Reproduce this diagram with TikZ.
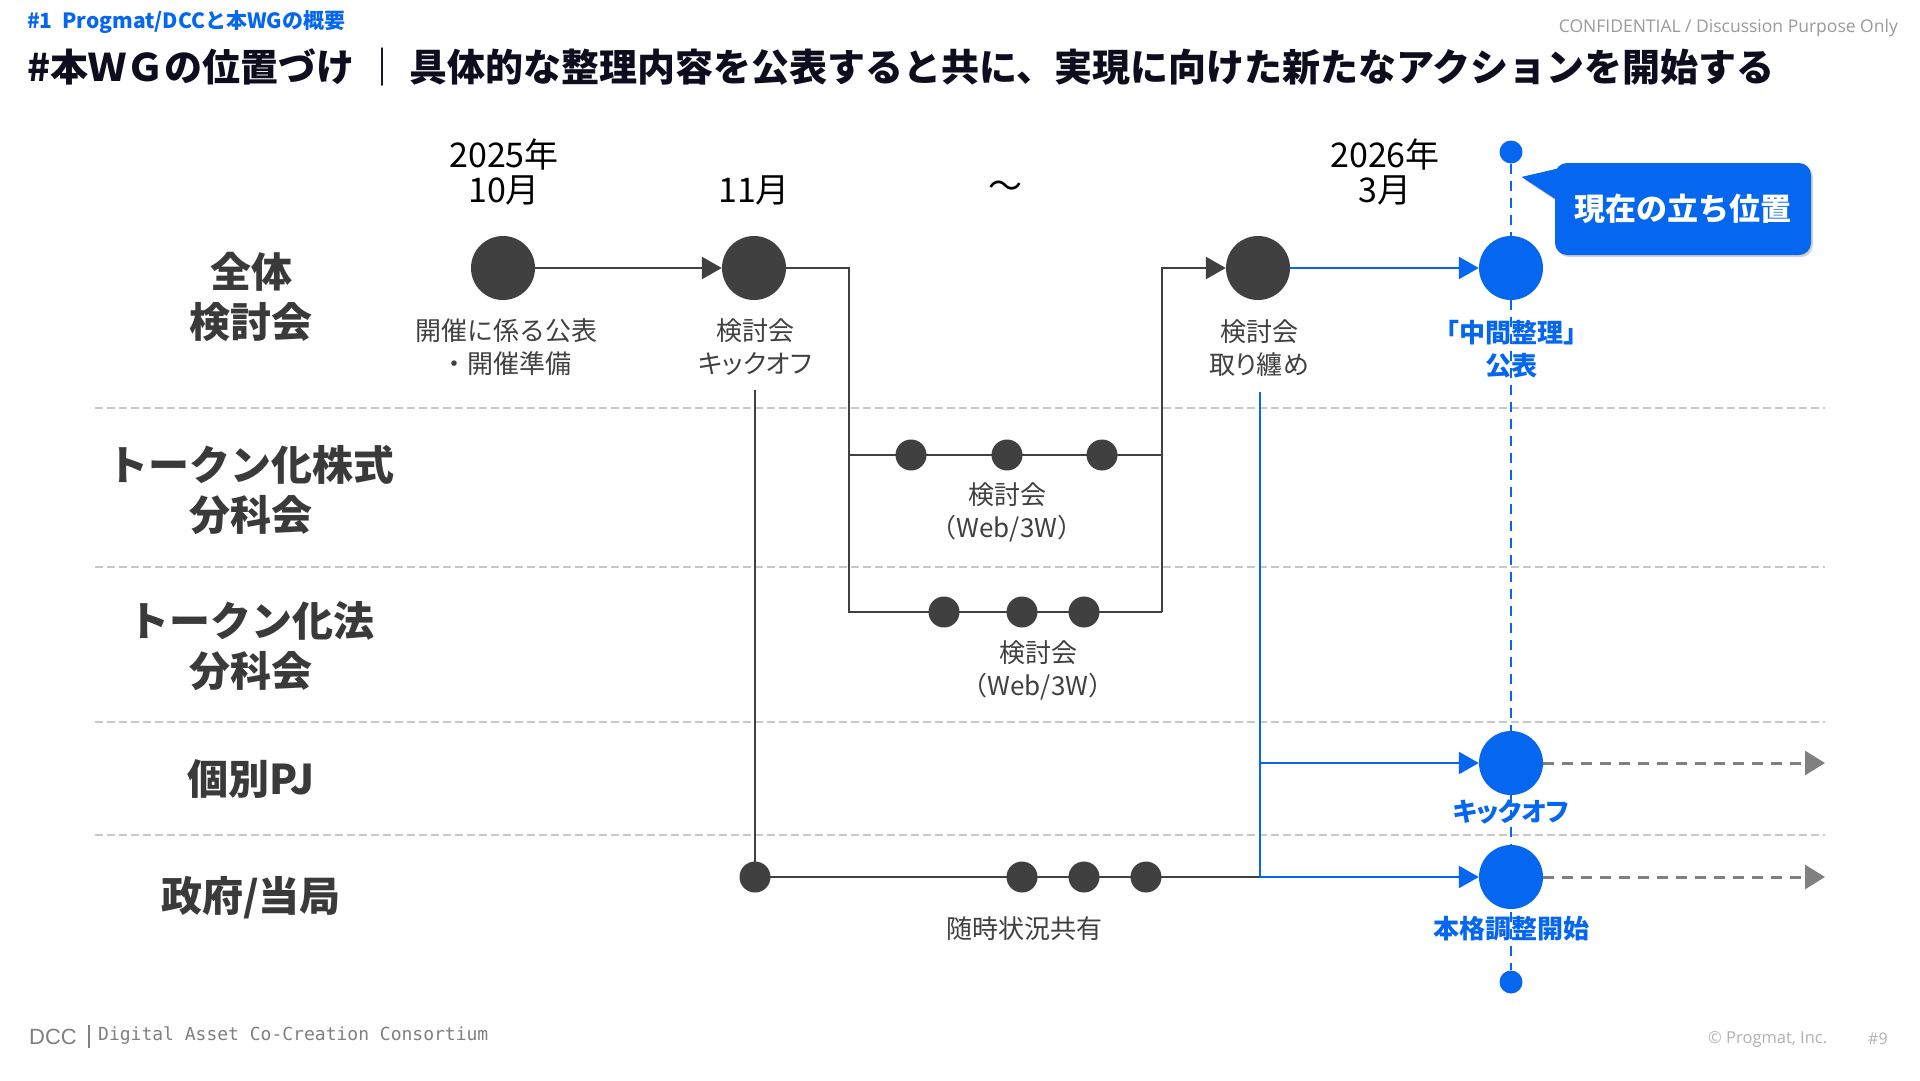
\documentclass[tikz,border=0pt]{standalone}
\usepackage{fontspec}
\setmainfont{Noto Sans CJK JP}
\newfontfamily\pfont[RawFeature=+palt]{Noto Sans CJK JP}
\newfontfamily\monof{DejaVu Sans Mono}
\newfontfamily\latf{Open Sans}
\newfontfamily\dccf{Liberation Sans}
\usetikzlibrary{arrows.meta,shadows}
\definecolor{bl}{HTML}{0566F0}
\definecolor{dk}{HTML}{404040}
\definecolor{rowc}{HTML}{3A3A3A}
\definecolor{titc}{HTML}{0D0D1E}
\definecolor{sepc}{HTML}{C8C8C8}
\definecolor{arrg}{HTML}{808080}
\begin{document}
\begin{tikzpicture}[x=1pt,y=-1pt,
  big/.style={circle,fill=dk,minimum size=64pt,inner sep=0pt},
  bigb/.style={big,fill=bl},
  sdot/.style={circle,fill=dk,minimum size=31pt,inner sep=0pt},
  tdot/.style={circle,fill=bl,minimum size=23pt,inner sep=0pt},
  lbl/.style={font=\fontsize{26}{33}\selectfont,text=dk,align=center},
  blbl/.style={font=\bfseries\fontsize{26}{33}\selectfont,text=bl,align=center},
  rowlbl/.style={font=\bfseries\fontsize{41}{50}\selectfont,text=rowc,align=center},
  datel/.style={font=\fontsize{34}{35}\selectfont,text=black,align=center},
  ln/.style={draw=dk,line width=2.5pt},
  bln/.style={draw=bl,line width=2.5pt},
  arr/.style={-{Triangle[length=20pt,width=22pt]}},
  sepl/.style={draw=sepc,line width=2pt,dash pattern=on 8pt off 4pt},
  garr/.style={draw=arrg,line width=3pt,dash pattern=on 11pt off 8pt,-{Triangle[length=20pt,width=24pt,fill=arrg]}}
]
\useasboundingbox[fill=white] (0,0) rectangle (1920,1080);

% header
\node[anchor=west,text=bl,font=\bfseries\fontsize{21}{22}\selectfont,inner sep=0pt] (hdr) at (27,22) {\#1\ \ Progmat/DCCと本WGの概要};
\node[anchor=east,text=arrg!80,font=\latf\fontsize{17.5}{20}\selectfont,inner sep=0pt] (conf) at (1898,28) {CONFIDENTIAL / Discussion Purpose Only};
\node[anchor=west,text=titc,font=\bfseries\fontsize{38}{40}\selectfont,inner sep=0pt] (title) at (27,67) {\#本ＷＧの位置づけ ｜ 具体的な整理内容を公表すると共に、実現に向けた新たなアクションを開始する};

% separators
\foreach \yy in {408,567,722,835} \draw[sepl] (95,\yy) -- (1825,\yy);

% row labels
\node[rowlbl] (r1) at (251,297) {全体\\検討会};
\node[rowlbl] (r2) at (251,490) {トークン化株式\\分科会};
\node[rowlbl] (r3) at (251,646) {トークン化法\\分科会};
\node[rowlbl] (r4) at (251,779) {個別PJ};
\node[rowlbl] (r5) at (251,898) {政府/当局};

% dates
\node[datel] (d1) at (504,172) {2025年\\10月};
\node[datel] (d2) at (754,190) {11月};
\node[datel] (d3) at (1005,190) {～};
\node[datel] (d4) at (1385,172) {2026年\\3月};

% main circles
\node[big] (c1) at (503,268) {};
\node[big] (c2) at (754,268) {};
\node[big] (c3) at (1258,268) {};
\node[bigb] (c4) at (1511,268) {};
\node[bigb] (c5) at (1511,763) {};
\node[bigb] (c6) at (1511,877) {};

% labels
\node[lbl] (l1) at (506,347) {開催に係る公表\\・開催準備};
\node[lbl] (l2) at (755,347) {検討会\\{\pfont キックオフ}};
\node[lbl] (l3) at (1259,348) {検討会\\{\pfont 取り纏め}};
\node[blbl] (l4) at (1511,349) {「中間整理」\\公表};
\node[lbl] (l5) at (1007,512) {検討会\\（Web/3W）};
\node[lbl] (l6) at (1038,670) {検討会\\（Web/3W）};
\node[blbl] (l7) at (1511,812) {\pfont キックオフ};
\node[blbl] (l8) at (1511,929) {本格調整開始};
\node[lbl] (l9) at (1024,929) {随時状況共有};

% coordinates
\coordinate (ml) at (849,455);
\coordinate (mr) at (1162,455);
\coordinate (bl1) at (849,612);
\coordinate (br) at (1162,612);
\coordinate (gtop) at (755,390);
\coordinate (kvtop) at (1260,392);
\coordinate (kv5) at (1260,763);
\coordinate (kv6) at (1260,877);
\coordinate (ge1) at (1825,763);
\coordinate (ge2) at (1825,877);

% connectors (dark)
\draw[ln,arr] (c1) -- (c2);
\draw[ln] (c2.east) -| (bl1) -- (br);
\draw[ln] (ml) -- (mr);
\draw[ln,arr] (br) |- (c3.west);
\draw[ln] (gtop) -- (755,877) -- (kv6);

% dots row 2 / row3 / row5
\node[sdot] (a1) at (911,455) {};
\node[sdot] (a2) at (1007,455) {};
\node[sdot] (a3) at (1102,455) {};
\node[sdot] (b1) at (944,612) {};
\node[sdot] (b2) at (1022,612) {};
\node[sdot] (b3) at (1084,612) {};
\node[sdot] (g0) at (755,877) {};
\node[sdot] (g1) at (1022,877) {};
\node[sdot] (g2) at (1084,877) {};
\node[sdot] (g3) at (1146,877) {};

% blue connectors
\draw[bln,arr] (c3) -- (c4);
\draw[bln] (kvtop) -- (kv6);
\draw[bln,arr] (kv5) -- (c5.west);
\draw[bln,arr] (kv6) -- (c6.west);

% gray dashed arrows
\draw[garr] (c5.east) -- (ge1);
\draw[garr] (c6.east) -- (ge2);

% current position dashed line
\node[tdot] (top) at (1511,152) {};
\node[tdot] (bot) at (1511,982) {};
\draw[draw=bl,line width=2.5pt,dash pattern=on 10pt off 7pt] (top) -- (bot);

% callout
\fill[black!25] (1525,180) -- (1563,171) -- (1563,205) -- cycle;
\fill[bl] (1522,177) -- (1560,168) -- (1560,202) -- cycle;
\node[fill=bl,rounded corners=12pt,minimum width=256pt,minimum height=92pt,inner sep=0pt,
  drop shadow={shadow xshift=2pt,shadow yshift=-2pt,opacity=0.35},
  text=white,font=\bfseries\fontsize{31}{34}\selectfont] (call) at (1683,209) {現在の立ち位置};
\fill[bl] (1522,177) -- (1562,168) -- (1562,202) -- cycle;

% footer
\node[anchor=west,text=arrg,font=\dccf\fontsize{22}{22}\selectfont,inner sep=0pt] (dcc) at (29,1037) {DCC};
\draw[draw=arrg,line width=1.5pt] (89,1025) -- (89,1048);
\node[anchor=west,text=arrg,font=\monof\fontsize{18}{18}\selectfont,inner sep=0pt] (dccl) at (98,1036) {Digital Asset Co-Creation Consortium};
\node[anchor=west,text=black!30,font=\latf\fontsize{16.5}{17}\selectfont,inner sep=0pt] (copy) at (1708,1039) {© Progmat, Inc.};
\node[anchor=west,text=black!30,font=\latf\fontsize{16}{17}\selectfont,inner sep=0pt] (pg) at (1868,1039) {\#9};
\end{tikzpicture}
\end{document}
